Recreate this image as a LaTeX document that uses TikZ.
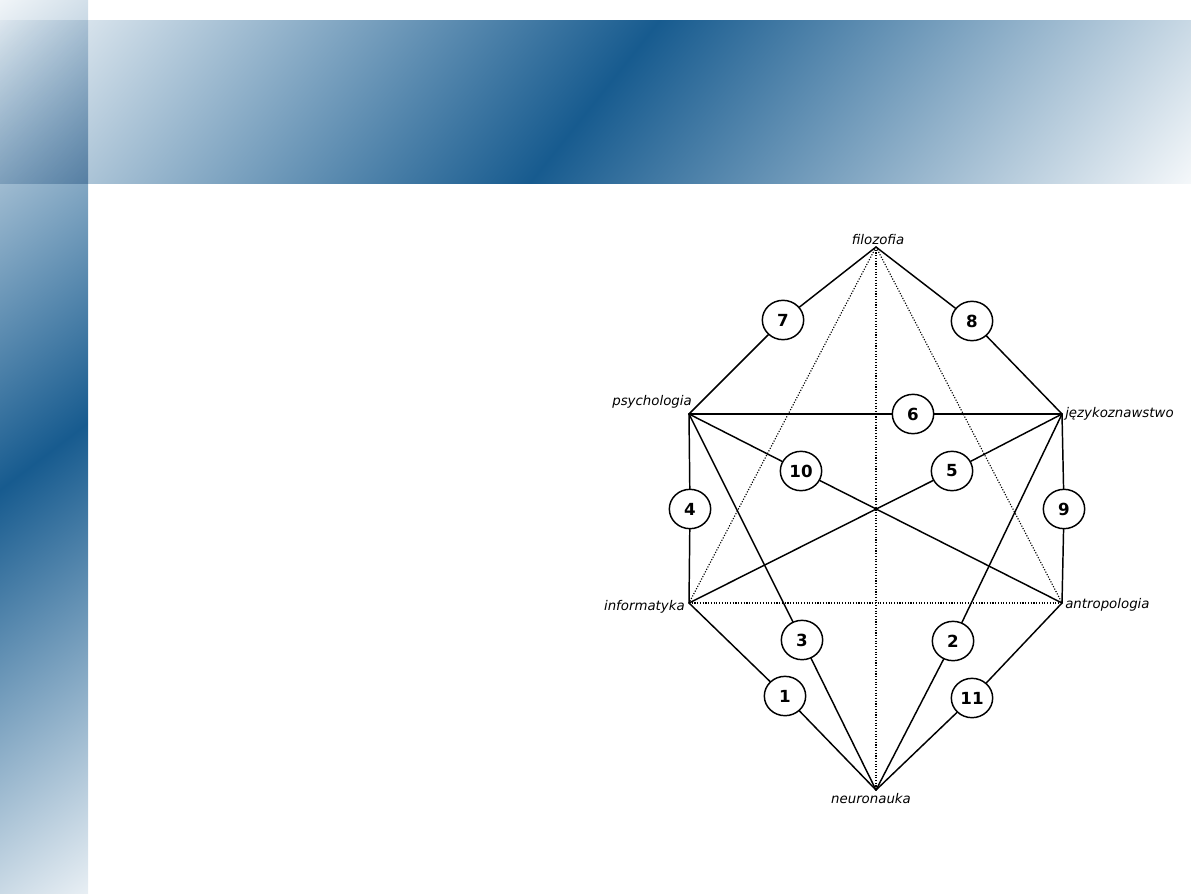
\documentclass[tikz,border=0pt]{standalone}
\usepackage{fontspec}
\setmainfont{DejaVu Sans}
\usetikzlibrary{shapes.geometric}
\definecolor{slideblue}{RGB}{23,91,143}
\pgfdeclareverticalshading{bandsh}{100bp}{color(0bp)=(white); color(37.5bp)=(white); color(50bp)=(slideblue); color(62.5bp)=(white); color(100bp)=(white)}
\begin{document}
\begin{tikzpicture}[x=0.75pt,y=-0.75pt,
  num/.style={ellipse, draw, line width=1.1pt, fill=white, minimum width=31pt, minimum height=29.5pt, inner sep=0pt, font=\fontsize{12.5}{14}\selectfont\bfseries},
  link/.style={line width=1.1pt, line cap=round, line join=round},
  dots/.style={line width=0.85pt, dash pattern=on 0.85pt off 1.2pt},
  lab/.style={font=\fontsize{10}{12}\selectfont\itshape, inner sep=0pt}]
\useasboundingbox (0,0) rectangle (1191,893);
% left strip
\begin{scope}
  \clip (0,0) rectangle (88,893);
  \shade[shading=bandsh, shading angle=37.3] (-788,-376) rectangle (876,1288);
\end{scope}
% top banner
\begin{scope}[blend mode=multiply]
  \clip (0,20) rectangle (1191,183);
  \shade[shading=bandsh, shading angle=51.4] (-495,-989) rectangle (1685,1191);
\end{scope}
% vertices
\coordinate (fil) at (876,247);
\coordinate (psy) at (689,414);
\coordinate (jez) at (1062,414);
\coordinate (inf) at (689,603);
\coordinate (ant) at (1062,603);
\coordinate (neu) at (876,790);
% labels
\node[lab, anchor=base] (lfil) at (878,244) {filozofia};
\node[lab, anchor=base east] (lpsy) at (692,405) {psychologia};
\node[lab, anchor=base west] (ljez) at (1065,417) {językoznawstwo};
\node[lab, anchor=base east] (linf) at (685,610) {informatyka};
\node[lab, anchor=base west] (lant) at (1065,608) {antropologia};
\node[lab, anchor=base] (lneu) at (871,803) {neuronauka};
% dotted connectors
\draw[dots] (fil) -- (inf);
\draw[dots] (fil) -- (ant);
\draw[dots] (fil) -- (neu);
\draw[dots] (inf) -- (ant);
% numbered circles
\node[num] (c7) at (783,320) {7};
\node[num] (c8) at (972,321) {8};
\node[num] (c6) at (913,414) {6};
\node[num] (c10) at (801,471) {10};
\node[num] (c5) at (952,471) {5};
\node[num] (c4) at (690,509) {4};
\node[num] (c9) at (1064,509) {9};
\node[num] (c3) at (802,640) {3};
\node[num] (c2) at (953,641) {2};
\node[num] (c1) at (785,696) {1};
\node[num] (c11) at (972,698) {11};
% solid connectors
\draw[link] (fil) -- (c7) -- (psy);
\draw[link] (fil) -- (c8) -- (jez);
\draw[link] (psy) -- (c6) -- (jez);
\draw[link] (psy) -- (c10) -- (ant);
\draw[link] (inf) -- (c5) -- (jez);
\draw[link] (psy) -- (c4) -- (inf);
\draw[link] (jez) -- (c9) -- (ant);
\draw[link] (psy) -- (c3) -- (neu);
\draw[link] (jez) -- (c2) -- (neu);
\draw[link] (inf) -- (c1) -- (neu);
\draw[link] (ant) -- (c11) -- (neu);
\end{tikzpicture}
\end{document}
